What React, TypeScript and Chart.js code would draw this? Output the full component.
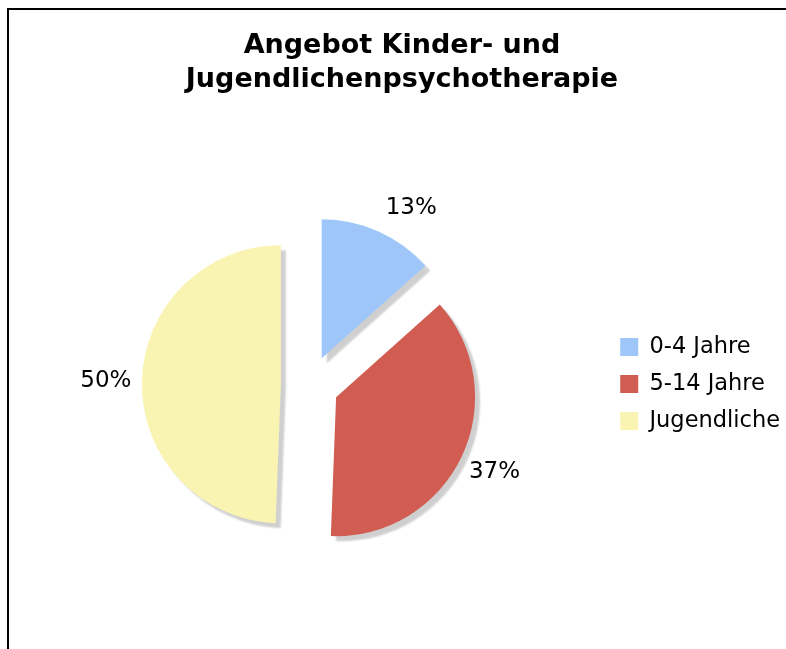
import React, { useEffect, useRef } from "react";
import { Chart, registerables } from "chart.js";

Chart.register(...registerables);

const TITLE_LINES = ["Angebot Kinder- und", "Jugendlichenpsychotherapie"];
const CATEGORIES = ["0-4 Jahre", "5-14 Jahre", "Jugendliche"];
const SHARES = [13.4, 37.2, 49.4];
const SHARE_LABELS = ["13%", "37%", "50%"];
const COLORS = ["#9ec6f9", "#d15d52", "#faf4b3"];

const EXPLODE = 29;
const LABEL_GAP = 65;
const LABEL_MAX_RISE = 177;

const explodedPie = {
  id: "explodedPie",
  beforeDatasetDraw(chart: any, args: any) {
    const ctx = chart.ctx;
    args.meta.data.forEach((arc: any) => {
      const { startAngle, endAngle } = arc.getProps(["startAngle", "endAngle"], true);
      const mid = (startAngle + endAngle) / 2;
      ctx.save();
      ctx.translate(Math.cos(mid) * EXPLODE, Math.sin(mid) * EXPLODE);
      ctx.shadowColor = "rgba(0,0,0,0.19)";
      ctx.shadowOffsetX = 5;
      ctx.shadowOffsetY = 5;
      ctx.shadowBlur = 2;
      arc.draw(ctx);
      ctx.restore();
    });
    return false;
  },
  afterDatasetsDraw(chart: any) {
    const ctx = chart.ctx;
    const meta = chart.getDatasetMeta(0);
    ctx.save();
    ctx.font = "23px 'DejaVu Sans'";
    ctx.fillStyle = "#000";
    ctx.textAlign = "center";
    ctx.textBaseline = "middle";
    meta.data.forEach((arc: any, i: number) => {
      const { x, y, startAngle, endAngle, outerRadius } = arc.getProps(
        ["x", "y", "startAngle", "endAngle", "outerRadius"],
        true
      );
      const mid = (startAngle + endAngle) / 2;
      const r = outerRadius + LABEL_GAP;
      let dx = Math.cos(mid) * r;
      let dy = Math.sin(mid) * r;
      if (dy < -LABEL_MAX_RISE) {
        dy = -LABEL_MAX_RISE;
        dx = Math.sign(dx || 1) * Math.sqrt(r * r - dy * dy);
      }
      ctx.fillText(SHARE_LABELS[i], x + dx, y + dy);
    });
    ctx.restore();
  },
};

export default function App() {
  const ref = useRef<HTMLCanvasElement | null>(null);

  useEffect(() => {
    if (!ref.current) return;
    const chart = new Chart(ref.current, {
      type: "pie",
      data: {
        labels: CATEGORIES,
        datasets: [
          {
            data: SHARES,
            backgroundColor: COLORS,
            borderWidth: 0,
            offset: 0,
            hoverOffset: 0,
          },
        ],
      },
      options: {
        responsive: false,
        animation: false,
        events: [],
        radius: 139,
        layout: { padding: { left: 5, right: 5, top: 0, bottom: 0 } },
        plugins: {
          title: {
            display: true,
            text: TITLE_LINES,
            color: "#000",
            font: { family: "'DejaVu Sans'", size: 27, weight: "bold", lineHeight: 1.27 },
            padding: { top: 19, bottom: 10 },
          },
          legend: {
            position: "right",
            title: {
              display: true,
              text: "",
              font: { size: 12, lineHeight: 1.2 },
              padding: { top: 40.8, bottom: 40.8 },
            },
            labels: {
              boxWidth: 18,
              boxHeight: 18,
              padding: 14.5,
              color: "#000",
              font: { family: "'DejaVu Sans'", size: 22.5 },
            },
          },
          tooltip: { enabled: false },
        },
      } as any,
      plugins: [explodedPie],
    });
    return () => chart.destroy();
  }, []);

  return (
    <div
      style={{
        position: "fixed",
        left: 0,
        top: 0,
        width: 786,
        height: 649,
        overflow: "hidden",
        background: "#fff",
      }}
    >
      <div
        style={{
          position: "absolute",
          left: 7,
          top: 8,
          width: 800,
          height: 700,
          borderLeft: "2px solid #000",
          borderTop: "2px solid #000",
        }}
      />
      <canvas
        ref={ref}
        width={786}
        height={652}
        style={{ position: "absolute", left: 9, top: 10, width: 786, height: 652 }}
      />
    </div>
  );
}
